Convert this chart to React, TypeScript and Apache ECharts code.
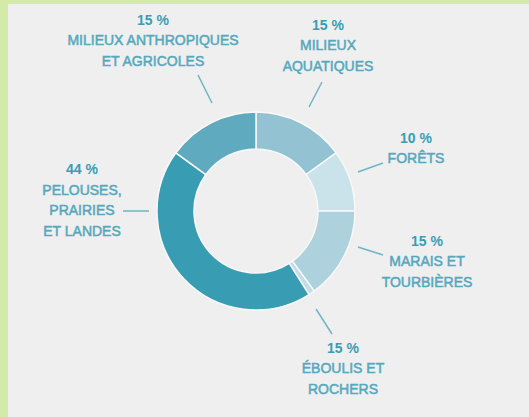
import React, { useEffect, useRef } from "react";
import * as echarts from "echarts";

// Data (clockwise from 12 o'clock)
const categories = [
  "MILIEUX\nAQUATIQUES",
  "FORÊTS",
  "MARAIS ET\nTOURBIÈRES",
  "ÉBOULIS ET\nROCHERS",
  "PELOUSES,\nPRAIRIES\nET LANDES",
  "MILIEUX ANTHROPIQUES\nET AGRICOLES",
];
const values = [15, 10, 15, 1, 44, 15];
const percentLabels = ["15 %", "10 %", "15 %", "15 %", "44 %", "15 %"];

// Styles & layout (not data)
const FONT = "Liberation Sans, Arial, sans-serif";
const sliceColors = ["#93c3d3", "#cae2ea", "#add1dd", "#c2dde6", "#389db3", "#5faabf"];
// label block centers (chart coords) and leader line endpoints
const labelPos: [number, number][] = [
  [320, 41],
  [408, 144],
  [419, 257],
  [335, 364],
  [74, 196],
  [145, 36],
];
const leaderLines: [number, number][][] = [
  [[314, 78], [301, 103]],
  [[375, 159], [350, 168]],
  [[350, 243], [375, 251]],
  [[308, 305], [324, 330]],
  [[115, 207], [141, 207]],
  [[190, 71], [204, 99]],
];

export default function App() {
  const ref = useRef<HTMLDivElement>(null);
  useEffect(() => {
    if (!ref.current) return;
    const chart = echarts.init(ref.current, undefined, { renderer: "svg" });
    chart.setOption({
      animation: false,
      backgroundColor: "#efefef",
      series: [
        {
          type: "pie",
          center: [248, 207],
          radius: [62, 99],
          startAngle: 90,
          clockwise: true,
          avoidLabelOverlap: false,
          itemStyle: { borderColor: "#f8f8f8", borderWidth: 1.5 },
          data: categories.map((name, i) => ({
            name,
            value: values[i],
            itemStyle: { color: sliceColors[i] },
          })),
          label: {
            show: true,
            position: "outside",
            fontFamily: FONT,
            formatter: (p: any) => {
              const i = p.dataIndex;
              const lines = categories[i].split("\n").map((l) => `{n|${l}}`).join("\n");
              return `{p|${percentLabels[i]}}\n${lines}`;
            },
            rich: {
              p: {
                fontSize: 14,
                fontWeight: "bold",
                color: "#3b9cb3",
                lineHeight: 20.5,
                fontFamily: FONT,
                align: "center",
              },
              n: {
                fontSize: 14,
                color: "#55a8bd",
                textBorderColor: "#55a8bd",
                textBorderWidth: 0.5,
                lineHeight: 20.5,
                fontFamily: FONT,
                align: "center",
              },
            },
          },
          labelLine: {
            show: true,
            lineStyle: { color: "#6fb5c7", width: 1.5 },
          },
          labelLayout: (params: any) => {
            const i = params.dataIndex;
            const [a, b] = leaderLines[i];
            return {
              x: labelPos[i][0],
              y: labelPos[i][1],
              align: "center",
              verticalAlign: "middle",
              labelLinePoints: [a, [(a[0] + b[0]) / 2, (a[1] + b[1]) / 2], b],
            };
          },
          emphasis: { disabled: true },
        },
      ],
    });
    return () => chart.dispose();
  }, []);
  return (
    <div style={{ position: "fixed", left: 0, top: 0, right: 0, bottom: 0, background: "#d3eaa9" }}>
      <div
        ref={ref}
        style={{ position: "absolute", left: 8, top: 4, width: 521, height: 413, background: "#efefef" }}
      />
    </div>
  );
}
